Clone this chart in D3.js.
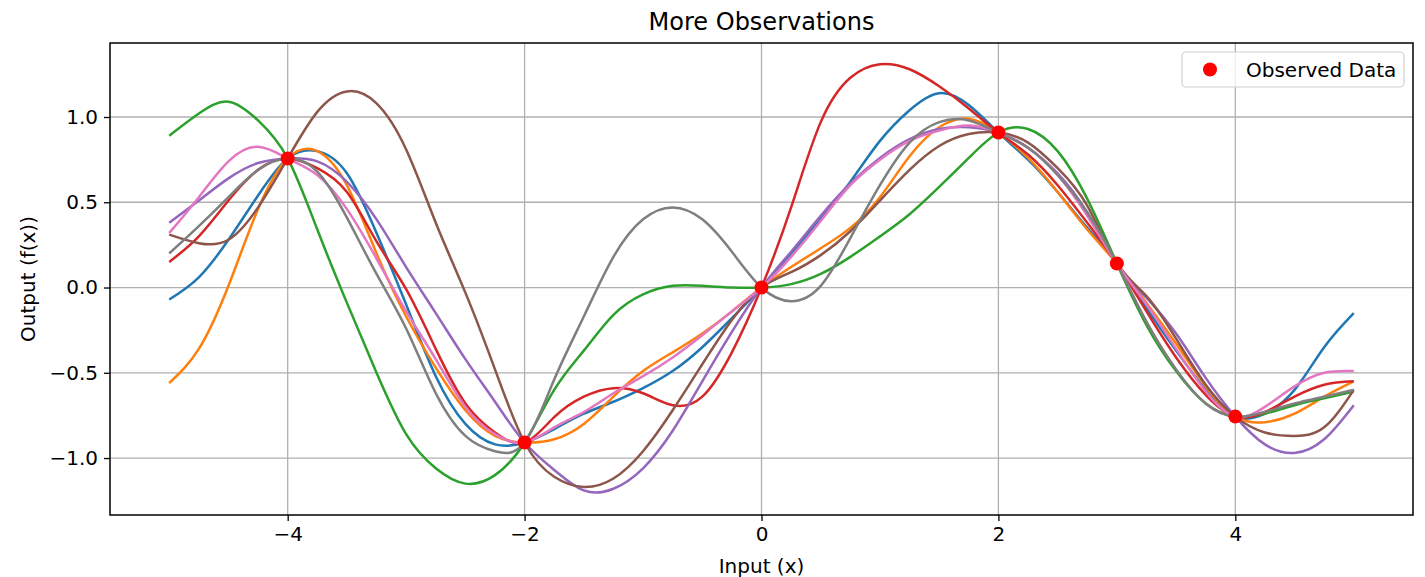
<!DOCTYPE html>
<html>
<head>
<meta charset="utf-8">
<script src="https://cdn.jsdelivr.net/npm/d3@7"></script>
<style>
  html, body { margin: 0; padding: 0; background: #fff; }
  svg { display: block; font-family: "DejaVu Sans", sans-serif; }
</style>
</head>
<body>
<svg id="chart" width="1425" height="577"></svg>
<script>
// ---- data ----
const xs = [-5, -4.75, -4.5, -4.25, -4, -3.75, -3.5, -3.25, -3, -2.75, -2.5, -2.25, -2, -1.75, -1.5, -1.25, -1, -0.75, -0.5, -0.25,
            0, 0.25, 0.5, 0.75, 1, 1.25, 1.5, 1.75, 2, 2.25, 2.5, 2.75, 3, 3.25, 3.5, 3.75, 4, 4.25, 4.5, 4.75, 5];

const sampleBlue   = [-0.07, 0.06, 0.28, 0.54, 0.757, 0.80, 0.67, 0.32, -0.10, -0.52, -0.80, -0.92, -0.909, -0.83, -0.74, -0.67, -0.59, -0.49, -0.35, -0.18,
                      0, 0.20, 0.40, 0.62, 0.86, 1.04, 1.14, 1.07, 0.909, 0.75, 0.56, 0.35, 0.141, -0.12, -0.37, -0.60, -0.757, -0.74, -0.60, -0.35, -0.15];
const sampleOrange = [-0.56, -0.36, 0.01, 0.46, 0.757, 0.80, 0.60, 0.20, -0.17, -0.47, -0.72, -0.87, -0.909, -0.89, -0.80, -0.64, -0.49, -0.38, -0.27, -0.14,
                      0, 0.12, 0.23, 0.35, 0.53, 0.77, 0.94, 0.99, 0.909, 0.76, 0.56, 0.34, 0.141, -0.09, -0.33, -0.58, -0.757, -0.79, -0.74, -0.64, -0.55];
const sampleGreen  = [0.89, 1.02, 1.09, 0.98, 0.757, 0.34, -0.09, -0.50, -0.86, -1.06, -1.15, -1.10, -0.909, -0.60, -0.37, -0.16, -0.04, 0.01, 0.01, 0.00,
                      0, 0.02, 0.08, 0.18, 0.30, 0.43, 0.59, 0.76, 0.909, 0.93, 0.80, 0.52, 0.141, -0.22, -0.49, -0.68, -0.757, -0.74, -0.69, -0.65, -0.61];
const sampleRed    = [0.15, 0.30, 0.51, 0.69, 0.757, 0.70, 0.56, 0.27, -0.01, -0.36, -0.68, -0.85, -0.909, -0.76, -0.64, -0.59, -0.62, -0.69, -0.64, -0.38,
                      0, 0.47, 0.97, 1.23, 1.31, 1.28, 1.18, 1.05, 0.909, 0.78, 0.60, 0.38, 0.141, -0.14, -0.41, -0.63, -0.757, -0.73, -0.64, -0.57, -0.55];
const samplePurple = [0.38, 0.51, 0.64, 0.73, 0.757, 0.74, 0.62, 0.40, 0.12, -0.15, -0.42, -0.67, -0.909, -1.07, -1.19, -1.18, -1.06, -0.84, -0.55, -0.26,
                      0, 0.21, 0.42, 0.61, 0.76, 0.87, 0.93, 0.94, 0.909, 0.82, 0.67, 0.44, 0.141, -0.06, -0.27, -0.53, -0.757, -0.92, -0.97, -0.89, -0.69];
const sampleBrown  = [0.31, 0.26, 0.28, 0.47, 0.757, 1.03, 1.15, 1.08, 0.81, 0.38, -0.03, -0.48, -0.909, -1.11, -1.17, -1.12, -0.96, -0.72, -0.45, -0.19,
                      0, 0.09, 0.19, 0.33, 0.51, 0.69, 0.83, 0.90, 0.909, 0.85, 0.70, 0.48, 0.141, -0.05, -0.30, -0.57, -0.757, -0.85, -0.87, -0.82, -0.60];
const samplePink   = [0.32, 0.53, 0.74, 0.825, 0.757, 0.66, 0.46, 0.17, -0.14, -0.42, -0.70, -0.86, -0.909, -0.82, -0.73, -0.62, -0.52, -0.41, -0.28, -0.14,
                      0, 0.18, 0.39, 0.60, 0.75, 0.86, 0.92, 0.95, 0.909, 0.82, 0.66, 0.42, 0.141, -0.10, -0.36, -0.61, -0.757, -0.70, -0.58, -0.50, -0.49];
const sampleGray   = [0.20, 0.36, 0.53, 0.69, 0.757, 0.68, 0.41, 0.08, -0.24, -0.62, -0.87, -0.96, -0.909, -0.54, -0.17, 0.18, 0.40, 0.47, 0.40, 0.21,
                      0, -0.08, 0.01, 0.29, 0.60, 0.85, 0.97, 0.98, 0.909, 0.82, 0.66, 0.44, 0.141, -0.20, -0.48, -0.68, -0.757, -0.73, -0.68, -0.64, -0.60];

const seriesValues = [sampleBlue, sampleOrange, sampleGreen, sampleRed, samplePurple, sampleBrown, samplePink, sampleGray];
const seriesColors = ["#1f77b4", "#ff7f0e", "#2ca02c", "#d62728", "#9467bd", "#8c564b", "#e377c2", "#7f7f7f"];

const obsX = [-4, -2, 0, 2, 3, 4];
const obsY = [0.757, -0.909, 0, 0.909, 0.141, -0.757];

const xTicks = [-4, -2, 0, 2, 4];
const yTicks = [-1.0, -0.5, 0.0, 0.5, 1.0];

const titleText = "More Observations";
const xLabelText = "Input (x)";
const yLabelText = "Output (f(x))";
const legendText = "Observed Data";

// ---- layout ----
const svg = d3.select("#chart");
const plot = { left: 110, right: 1413, top: 43, bottom: 515 };

const x = d3.scaleLinear().domain([-5.5, 5.5]).range([plot.left, plot.right]);
const y = d3.scaleLinear().domain([-1.334, 1.434]).range([plot.bottom, plot.top]);

const fmtMinus = s => s.replace("-", "\u2212");

// grid
const grid = svg.append("g");
grid.selectAll("line.gx").data(xTicks).join("line")
  .attr("x1", d => x(d)).attr("x2", d => x(d))
  .attr("y1", plot.top).attr("y2", plot.bottom)
  .attr("stroke", "#b0b0b0").attr("stroke-width", 1.3);
grid.selectAll("line.gy").data(yTicks).join("line")
  .attr("x1", plot.left).attr("x2", plot.right)
  .attr("y1", d => y(d)).attr("y2", d => y(d))
  .attr("stroke", "#b0b0b0").attr("stroke-width", 1.3);

// lines
svg.append("clipPath").attr("id", "clip").append("rect")
  .attr("x", plot.left).attr("y", plot.top)
  .attr("width", plot.right - plot.left).attr("height", plot.bottom - plot.top);

const line = d3.line()
  .x((d, i) => x(xs[i]))
  .y(d => y(d))
  .curve(d3.curveNatural);

svg.append("g").attr("clip-path", "url(#clip)")
  .selectAll("path").data(seriesValues).join("path")
  .attr("d", d => line(d))
  .attr("fill", "none")
  .attr("stroke", (d, i) => seriesColors[i])
  .attr("stroke-width", 2.5)
  .attr("stroke-linejoin", "round")
  .attr("stroke-linecap", "butt");

// observed points
svg.append("g").selectAll("circle").data(obsX).join("circle")
  .attr("cx", d => x(d))
  .attr("cy", (d, i) => y(obsY[i]))
  .attr("r", 7)
  .attr("fill", "#ff0000");

// axes
const xAxis = d3.axisBottom(x).tickValues(xTicks).tickSize(6).tickPadding(6)
  .tickFormat(d => fmtMinus(d3.format("d")(d)));
const yAxis = d3.axisLeft(y).tickValues(yTicks).tickSize(6).tickPadding(6)
  .tickFormat(d => fmtMinus(d3.format(".1f")(d)));

const gx = svg.append("g").attr("transform", `translate(0,${plot.bottom})`).call(xAxis);
const gy = svg.append("g").attr("transform", `translate(${plot.left},0)`).call(yAxis);
[gx, gy].forEach(g => {
  g.select(".domain").remove();
  g.selectAll(".tick line").attr("stroke", "#000").attr("stroke-width", 1.3);
  g.selectAll(".tick text").attr("fill", "#000").style("font-size", "20px")
    .style("font-family", "'DejaVu Sans', sans-serif");
});

// frame
svg.append("rect")
  .attr("x", plot.left).attr("y", plot.top)
  .attr("width", plot.right - plot.left).attr("height", plot.bottom - plot.top)
  .attr("fill", "none").attr("stroke", "#000").attr("stroke-width", 1.5);

// title and labels
svg.append("text").attr("x", (plot.left + plot.right) / 2).attr("y", 30)
  .attr("text-anchor", "middle").style("font-size", "24px").text(titleText);
svg.append("text").attr("x", (plot.left + plot.right) / 2).attr("y", 573)
  .attr("text-anchor", "middle").style("font-size", "20px").text(xLabelText);
svg.append("text").attr("transform", `translate(35,${(plot.top + plot.bottom) / 2}) rotate(-90)`)
  .attr("text-anchor", "middle").style("font-size", "20px").text(yLabelText);

// legend
const lg = svg.append("g");
lg.append("rect").attr("x", 1182).attr("y", 52).attr("width", 222).attr("height", 35)
  .attr("rx", 4).attr("fill", "#fff").attr("fill-opacity", 0.8)
  .attr("stroke", "#d0d0d0").attr("stroke-width", 1.2);
lg.append("circle").attr("cx", 1210).attr("cy", 69.5).attr("r", 7).attr("fill", "#ff0000");
lg.append("text").attr("x", 1246).attr("y", 76.5).style("font-size", "20px").text(legendText);
</script>
</body>
</html>
